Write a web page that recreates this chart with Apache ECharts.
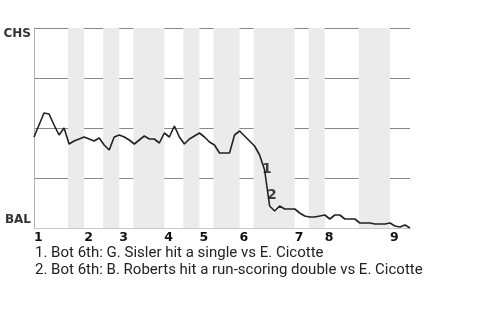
<!DOCTYPE html>
<html>
<head>
<meta charset="utf-8">
<script src="https://cdn.jsdelivr.net/npm/echarts@6/dist/echarts.min.js"></script>
<style>
html,body{margin:0;padding:0;background:#fff;}
#chart{width:480px;height:320px;}
</style>
</head>
<body>
<div id="chart"></div>
<script>
// Win probability (% for CHS) after each plate appearance
const winProb = [
  45.5, 51.5, 57.5, 57, 51.5, 46.5, 50, 42, 43.5, 44.5,
  45.5, 44.5, 43.5, 45, 41.5, 39, 45.5, 46.5, 45.5, 44,
  42, 44, 46, 44.5, 44.5, 42.5, 47.5, 45.5, 51, 45.5,
  42, 44.5, 46, 47.5, 45.5, 43, 41.5, 37.5, 37.5, 37.5,
  46.5, 48.5, 46, 43.5, 41, 36.5, 29, 11, 8.5, 11,
  9.5, 9.5, 9.5, 7.5, 6, 5.5, 5.5, 6, 6.5, 4.5,
  6.5, 6.5, 4.5, 4.5, 4.5, 2.5, 2.5, 2.5, 2, 2,
  2, 2.5, 1, 0.5, 1.5, 0
];
const inningLabels = ['1', '2', '3', '4', '5', '6', '7', '8', '9'];
const inningStart = [0, 10, 17, 26, 33, 41, 52, 58, 71];
const bottomStart = [6.8, 13.8, 19.8, 29.8, 35.8, 43.8, 54.8, 64.8];
const bottomEnd = [10, 17, 26, 33, 41, 52, 58, 71];
const yTeams = { top: 'CHS', bottom: 'BAL' };
const keyEventIdx = [46, 47];
const keyEventText = [
  '1. Bot 6th: G. Sisler hit a single vs E. Cicotte',
  '2. Bot 6th: B. Roberts hit a run-scoring double vs E. Cicotte'
];

const FONT = 'Roboto, "Noto Sans", sans-serif';
const BOLD_FONT = '"DejaVu Sans", sans-serif';
const chart = echarts.init(document.getElementById('chart'), null, { renderer: 'canvas' });

const lineData = winProb.map((v, i) => [i, v]);
const shadeData = bottomStart.map((s, i) => [{ xAxis: s }, { xAxis: bottomEnd[i] }]);
const eventData = keyEventIdx.map(i => [i - 0.5, (winProb[i - 1] + winProb[i]) / 2]);

chart.setOption({
  animation: false,
  textStyle: { fontFamily: FONT },
  title: {
    text: keyEventText.join('\n'),
    left: 35,
    top: 244,
    padding: 0,
    textStyle: { fontFamily: FONT, fontSize: 15, fontWeight: 'normal', color: '#222', lineHeight: 17.5 }
  },
  grid: { left: 34, right: 70, top: 28, bottom: 92, containLabel: false, outerBoundsMode: 'none' },
  xAxis: {
    type: 'value',
    min: 0,
    max: winProb.length - 1,
    axisLine: { show: true, lineStyle: { color: '#c8c8c8', width: 1 } },
    axisTick: { show: false },
    splitLine: { show: false },
    axisLabel: {
      customValues: inningStart,
      formatter: v => inningLabels[inningStart.indexOf(v)],
      align: 'left',
      margin: 3,
      fontSize: 12.5,
      fontWeight: 'bold',
      color: '#111',
      fontFamily: BOLD_FONT
    }
  },
  yAxis: {
    type: 'value',
    min: 0,
    max: 100,
    interval: 25,
    axisLine: { show: true, lineStyle: { color: '#b0b0b0', width: 1 } },
    axisTick: { show: false },
    splitLine: { show: true, showMinLine: false, lineStyle: { color: '#888', width: 1 } },
    axisLabel: {
      customValues: [0, 100],
      margin: 3,
      formatter: v => v === 100 ? '{t|' + yTeams.top + '}' : '{b|' + yTeams.bottom + '}',
      rich: {
        t: { fontSize: 12, fontWeight: 'bold', color: '#333', fontFamily: BOLD_FONT, padding: [12, 0, 0, 0] },
        b: { fontSize: 12, fontWeight: 'bold', color: '#333', fontFamily: BOLD_FONT, padding: [0, 0, 16, 0] }
      }
    }
  },
  series: [
    {
      type: 'line',
      z: -1,
      data: [],
      silent: true,
      markArea: {
        silent: true,
        itemStyle: { color: '#ebebeb' },
        data: shadeData
      }
    },
    {
      type: 'line',
      data: lineData,
      showSymbol: false,
      symbol: 'none',
      lineStyle: { color: '#222', width: 1.6 },
      silent: true,
      z: 3
    },
    {
      type: 'scatter',
      data: eventData,
      symbolSize: 0,
      silent: true,
      z: 4,
      label: {
        show: true,
        formatter: p => String(p.dataIndex + 1),
        position: [0, 0],
        align: 'left',
        verticalAlign: 'top',
        fontSize: 14,
        fontWeight: 'bold',
        color: '#111',
        fontFamily: BOLD_FONT
      }
    }
  ]
});
</script>
</body>
</html>
